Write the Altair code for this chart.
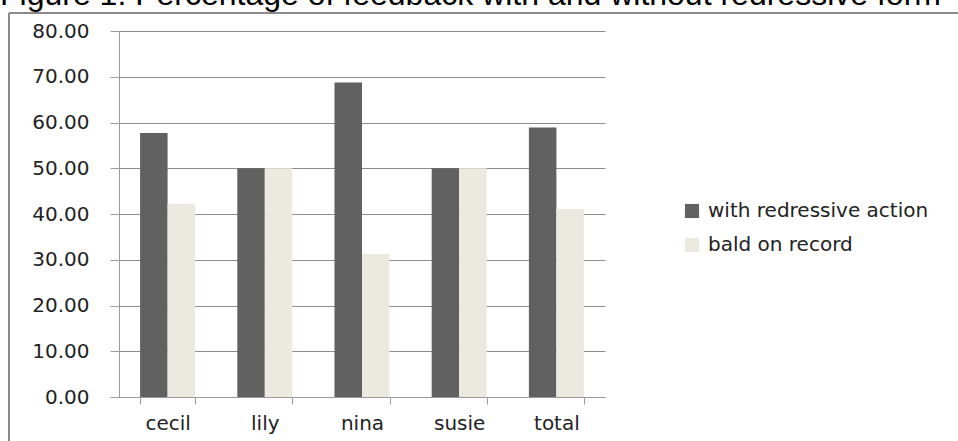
import altair as alt
import pandas as pd

categories = ["cecil", "lily", "nina", "susie", "total"]
series_names = ["with redressive action", "bald on record"]
with_redressive = [57.69, 50.00, 68.75, 50.00, 58.90]
bald_on_record = [42.31, 50.00, 31.25, 50.00, 41.10]
y_ticks = [0, 10, 20, 30, 40, 50, 60, 70, 80]
title_text = "Figure 1: Percentage of feedback with and without redressive form"

rows = []
for c, a, b in zip(categories, with_redressive, bald_on_record):
    rows.append({"name": c, "series": series_names[0], "value": a})
    rows.append({"name": c, "series": series_names[1], "value": b})
df = pd.DataFrame(rows)

FONT = "DejaVu Sans"

bars = alt.Chart(df).mark_bar().encode(
    x=alt.X("name:N", sort=categories,
            scale=alt.Scale(paddingInner=0.434, paddingOuter=0.217),
            axis=alt.Axis(title=None, labelAngle=0, tickBand="extent", tickSize=7,
                          labelPadding=9, domainColor="#9a9a9a", tickColor="#9a9a9a",
                          labelFont=FONT, labelFontSize=20, labelColor="#222222",
                          grid=False)),
    xOffset=alt.XOffset("series:N", sort=series_names, scale=alt.Scale(paddingInner=0, paddingOuter=0)),
    y=alt.Y("value:Q", scale=alt.Scale(domain=[0, 80], nice=False),
            axis=alt.Axis(title=None, values=y_ticks, format=".2f", tickSize=9,
                          labelPadding=21, domainColor="#9a9a9a", tickColor="#9a9a9a",
                          gridColor="#8c8c8c", gridWidth=1,
                          labelFont=FONT, labelFontSize=20, labelColor="#222222")),
    color=alt.Color("series:N", sort=series_names,
                    scale=alt.Scale(domain=series_names, range=["#616161", "#ECEAE0"]),
                    legend=alt.Legend(title=None, orient="none", legendX=563, legendY=170,
                                      symbolType="square", symbolSize=200, symbolStrokeWidth=0,
                                      labelFont=FONT, labelFontSize=20, labelColor="#222222",
                                      labelLimit=400, labelOffset=6, rowPadding=14)),
)

border_left = alt.Chart(df).mark_rule(color="#8a8a8a", strokeWidth=1.5).encode(
    x=alt.value(-110), y=alt.value(-18), y2=alt.value(600))
border_top = alt.Chart(df).mark_rule(color="#8a8a8a", strokeWidth=1.5).encode(
    x=alt.value(-110), x2=alt.value(1000), y=alt.value(-18))

title_df = pd.DataFrame({"t": [title_text]})
title = alt.Chart(title_df).mark_text(align="left", baseline="alphabetic", font="Liberation Sans",
                                      fontSize=32, color="#000000").encode(
    x=alt.value(-119), y=alt.value(-26), text="t:N")

chart = alt.layer(border_left, border_top, bars, title).properties(
    width=486, height=366,
    padding={"left": 119, "top": 31, "right": 353, "bottom": 44},
    autosize=alt.AutoSizeParams(type="none"),
).configure_view(strokeWidth=0)

chart.save("out.html", embed_options={"renderer": "svg", "actions": False})
